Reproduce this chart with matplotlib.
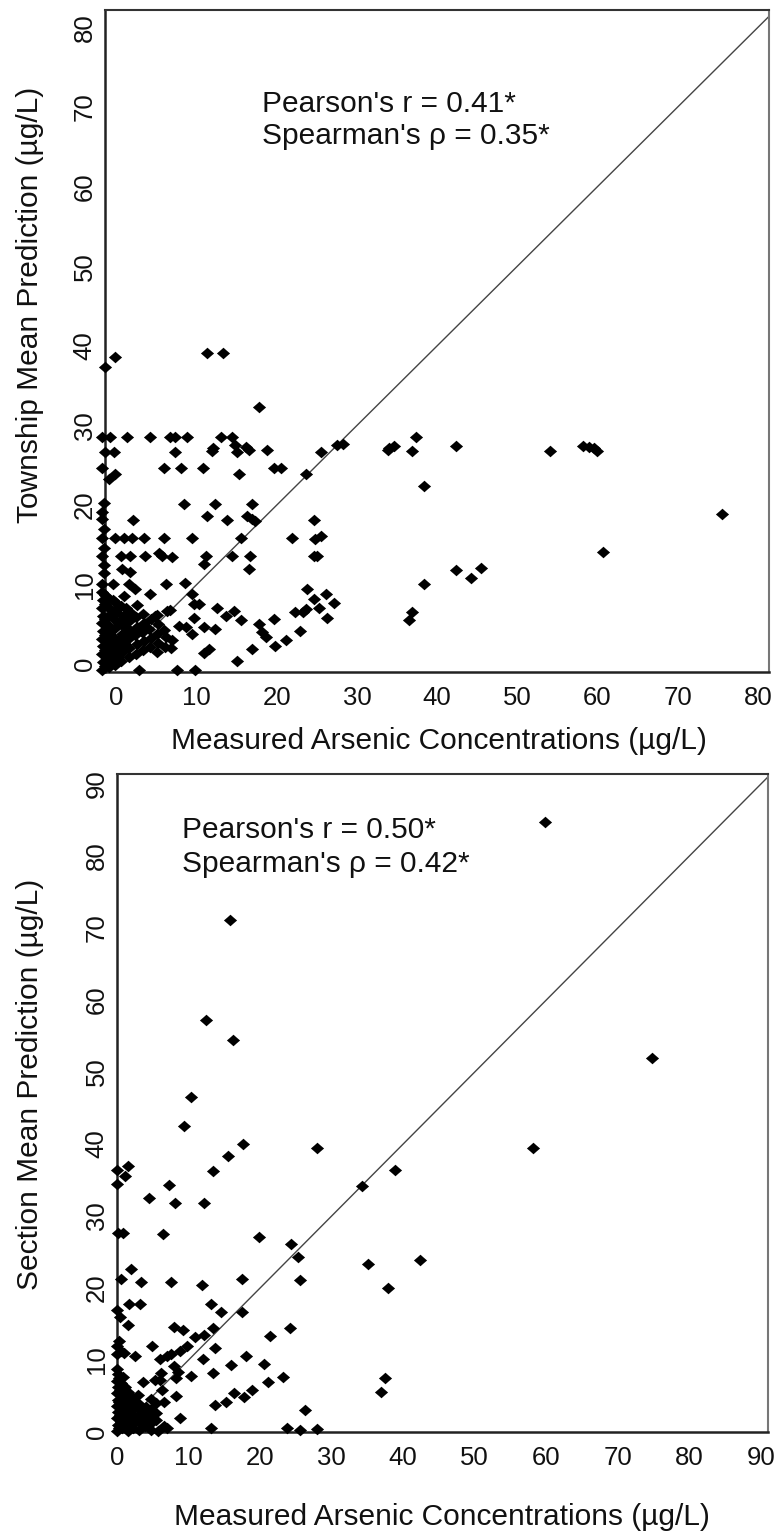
import matplotlib
matplotlib.use("Agg")
import matplotlib.pyplot as plt
from matplotlib.path import Path
import numpy as np

plt.rcParams['font.family'] = ['Liberation Sans', 'DejaVu Sans']

# ---------------- data ----------------
# Panel 1: measured arsenic (x) vs township mean prediction (y)
town_scatter = [
    (-1.4, 37.3), (-0.2, 38.6), (11.3, 39.1), (13.3, 39.1), (17.8, 32.3),
    (-1.8, 28.5), (-0.8, 28.5), (1.3, 28.5), (4.2, 28.5), (6.6, 28.5), (7.3, 28.5), (8.8, 28.5),
    (13.0, 28.5), (14.4, 28.5), (37.3, 28.5),
    (27.5, 27.5), (28.2, 27.6), (42.3, 27.4), (34.6, 27.4), (34.0, 27.2), (58.2, 27.4), (59.0, 27.3),
    (59.6, 27.2), (14.8, 27.5), (16.1, 27.3), (12.0, 27.2),
    (-1.4, 26.7), (-0.3, 26.7), (7.3, 26.7), (11.9, 26.8), (15.0, 26.7), (16.5, 26.9), (18.8, 26.9),
    (25.5, 26.7), (33.8, 26.9), (36.9, 26.8), (54.1, 26.8), (60.0, 26.8),
    (-1.8, 24.7), (5.9, 24.7), (8.0, 24.7), (10.8, 24.7), (19.6, 24.7), (20.5, 24.7), (-0.2, 23.9),
    (-1.0, 23.2), (15.3, 23.9), (23.6, 23.9), (38.4, 22.4),
    (-1.6, 20.2), (8.4, 20.1), (12.3, 20.1), (16.9, 20.1), (-1.8, 19.1), (-1.8, 18.2), (11.3, 18.6),
    (13.8, 18.1), (16.3, 18.6), (16.9, 18.2), (17.3, 18.0), (2.0, 18.1), (24.6, 18.1), (75.5, 18.9),
    (-1.6, 17.0),
    (-1.8, 15.9), (-0.2, 15.9), (0.9, 15.9), (1.9, 15.9), (3.4, 15.9), (5.9, 15.9), (9.4, 15.9),
    (15.5, 15.9), (21.9, 15.9), (24.8, 15.7), (25.5, 16.1), (-1.6, 14.6), (60.7, 14.1),
    (-1.8, 13.6), (0.5, 13.6), (1.7, 13.6), (3.6, 13.6), (5.3, 14.0), (5.6, 13.6), (6.9, 13.4),
    (11.1, 13.6), (14.4, 13.6), (16.7, 13.6), (24.6, 13.6), (25.0, 13.6),
    (10.9, 12.6), (16.5, 11.9), (0.7, 11.9), (1.7, 11.6), (-1.6, 12.5), (-1.6, 11.5), (42.3, 11.8),
    (44.2, 10.8), (45.5, 12.1),
    (-1.8, 10.0), (-0.5, 10.0), (1.5, 10.0), (2.3, 9.4), (6.2, 10.0), (8.5, 10.2), (38.3, 10.0),
    (4.2, 8.8), (9.4, 8.8),
    (23.8, 9.4), (26.1, 8.8), (24.6, 8.2), (27.1, 7.7), (25.3, 7.0), (26.3, 5.8), (22.3, 6.5),
    (23.2, 6.6), (23.6, 6.9), (22.9, 4.2), (21.1, 3.0), (19.8, 2.3), (19.6, 5.7), (16.9, 1.9),
    (15.0, 0.4), (17.8, 5.0), (18.2, 4.0), (18.6, 3.4),
    (12.5, 7.1), (13.6, 6.1), (14.7, 6.7), (15.5, 5.5), (9.6, 7.5), (10.3, 7.5), (9.6, 5.8),
    (7.8, 4.8), (8.6, 4.6), (9.4, 3.8), (10.9, 4.6), (12.3, 4.4), (11.5, 1.9), (10.9, 1.4),
    (9.8, -0.7), (7.5, -0.8), (2.8, -0.8), (4.8, 6.1), (6.3, 6.7), (36.9, 6.6), (36.5, 5.5),
]
# dense mass of overlapping wells near the origin
town_cluster = [
    (-1.8, -0.8), (-1.7, 0.3), (-1.8, 1.3), (-1.7, 2.3), (-1.8, 3.2), (-1.7, 4.2), (-1.8, 5.1),
    (-1.7, 6.0), (-1.8, 7.0), (-1.7, 8.0), (-1.8, 9.0),
    (-1.4, -0.2), (-1.4, 1.8), (-1.5, 3.7), (-1.4, 5.6), (-1.5, 7.5), (-1.4, 8.7),
    (-1.0, -0.4), (-1.1, 0.7), (-0.9, 1.8), (-1.1, 2.8), (-1.0, 3.9), (-1.1, 4.9), (-0.9, 6.0),
    (-1.0, 7.1), (-1.1, 8.3),
    (-0.6, 0.2), (-0.6, 2.5), (-0.7, 4.4), (-0.6, 6.4), (-0.5, 8.0),
    (-0.2, -0.1), (-0.3, 1.1), (-0.1, 2.2), (-0.3, 3.3), (-0.2, 4.5), (-0.3, 5.6), (-0.1, 6.6),
    (-0.2, 7.8),
    (0.2, 0.9), (0.2, 3.0), (0.3, 5.3), (0.1, 7.1),
    (0.6, 0.4), (0.7, 1.5), (0.5, 2.7), (0.7, 3.8), (0.6, 5.0), (0.8, 6.1), (0.6, 7.3), (0.9, 8.6),
    (1.1, 2.5), (1.0, 4.8), (1.2, 7.0),
    (1.5, 0.9), (1.6, 2.0), (1.4, 3.1), (1.6, 4.3), (1.5, 5.4), (1.7, 6.6),
    (2.4, 1.3), (2.5, 2.5), (2.3, 3.6), (2.5, 4.7), (2.4, 5.9), (2.6, 7.4),
    (3.3, 1.8), (3.4, 2.9), (3.2, 4.0), (3.4, 5.2), (3.3, 6.3),
    (4.2, 2.1), (4.3, 3.3), (4.1, 4.4), (4.3, 5.6),
    (5.1, 1.5), (5.2, 2.6), (5.0, 3.8), (5.2, 5.0), (5.1, 6.2),
    (6.0, 2.2), (6.1, 3.4), (5.9, 4.3),
    (6.8, 2.0), (6.9, 3.0), (6.6, 6.8),
]

# Panel 2: measured arsenic (x) vs section mean prediction (y)
section_scatter = [
    (59.8, 84.7), (15.8, 71.1), (12.5, 57.2), (16.2, 54.4), (74.8, 51.9), (10.3, 46.6), (9.4, 42.5),
    (17.6, 40.0), (27.9, 39.4), (58.1, 39.4), (15.5, 38.3), (38.9, 36.4), (34.3, 34.2), (35.1, 23.3),
    (42.4, 23.9), (37.9, 20.0), (37.4, 7.5), (36.9, 5.5),
    (13.4, 36.3), (0.0, 36.4), (1.6, 36.9), (1.1, 35.5), (0.0, 34.4), (7.2, 34.3), (4.5, 32.5),
    (8.1, 31.8), (12.2, 31.8),
    (0.2, 27.6), (0.9, 27.6), (6.4, 27.5), (19.8, 27.1), (24.3, 26.1), (25.3, 24.3), (25.6, 21.1),
    (17.5, 21.3), (11.9, 20.4), (7.5, 20.9), (3.4, 20.9), (2.0, 22.7), (0.6, 21.3),
    (1.7, 17.8), (3.2, 17.8), (0.0, 16.9), (0.4, 16.0), (1.5, 14.9), (13.1, 17.8), (14.6, 16.6),
    (17.5, 16.6), (24.2, 14.4), (21.4, 13.3), (13.4, 14.4), (10.9, 13.2), (12.1, 13.5), (7.9, 14.6),
    (9.2, 14.2),
    (4.9, 11.9), (0.0, 11.9), (0.3, 12.6), (0.6, 11.3), (1.0, 11.0), (0.0, 10.8), (2.5, 10.5),
    (6.0, 10.2), (7.0, 10.5), (7.5, 10.9), (9.8, 11.9), (8.8, 11.2), (12.0, 10.2), (13.7, 11.6),
    (18.0, 10.5), (15.9, 9.3), (20.6, 9.4), (23.2, 7.7), (21.1, 6.9), (18.9, 5.8), (17.8, 4.9),
    (16.3, 5.4), (15.3, 4.1), (13.7, 3.8), (13.4, 8.2), (10.3, 7.8), (8.5, 8.4), (8.3, 7.5),
    (7.9, 9.1), (6.2, 8.2), (6.0, 7.2), (8.3, 5.0), (8.8, 1.9), (13.1, 0.5), (23.8, 0.5), (25.6, 0.3),
    (27.9, 0.4), (26.3, 3.0), (5.8, 0.2), (6.5, 0.9), (7.0, 0.5), (5.3, 7.2), (3.7, 7.0), (6.3, 5.8),
    (6.5, 4.2), (5.5, 4.0),
]
section_cluster = [
    (0.0, 0.2), (0.1, 1.0), (0.0, 1.9), (0.1, 2.8), (0.0, 3.6), (0.1, 4.5), (0.0, 5.4), (0.1, 6.3),
    (0.0, 7.1), (0.1, 8.0), (0.0, 8.8),
    (0.3, 0.6), (0.4, 2.4), (0.3, 4.1), (0.4, 5.9), (0.3, 7.5),
    (0.7, 0.5), (0.6, 1.4), (0.8, 2.3), (0.7, 3.2), (0.6, 4.1), (0.8, 5.0), (0.7, 5.9), (0.6, 6.8),
    (0.8, 7.7),
    (1.1, 0.8), (1.1, 2.6), (1.0, 4.4), (1.1, 6.2),
    (1.5, 0.2), (1.4, 1.1), (1.6, 2.0), (1.5, 2.9), (1.4, 3.8), (1.6, 4.7), (1.5, 5.6),
    (1.9, 1.0), (1.9, 3.1), (2.0, 5.0),
    (2.3, 0.6), (2.4, 1.5), (2.2, 2.4), (2.4, 3.3), (2.3, 4.3),
    (3.1, 0.3), (3.2, 1.2), (3.0, 2.1), (3.2, 3.0), (3.1, 3.9), (3.0, 5.2),
    (3.9, 0.8), (4.0, 1.7), (3.8, 2.6), (4.0, 3.5),
    (4.7, 0.3), (4.8, 1.3), (4.6, 2.3), (4.8, 3.2), (4.7, 4.6),
    (5.4, 1.7), (5.5, 2.6),
]

town_ticks = [0, 10, 20, 30, 40, 50, 60, 70, 80]
section_ticks = [0, 10, 20, 30, 40, 50, 60, 70, 80, 90]

town_stats = ["Pearson's r = 0.41*", "Spearman's ρ = 0.35*"]
section_stats = ["Pearson's r = 0.50*", "Spearman's ρ = 0.42*"]

xlabel_text = "Measured Arsenic Concentrations (µg/L)"
town_ylabel = "Township Mean Prediction (µg/L)"
section_ylabel = "Section Mean Prediction (µg/L)"

# ---------------- drawing ----------------
W, H = 778, 1534
fig = plt.figure(figsize=(W / 100, H / 100), dpi=100)
fig.patch.set_facecolor("white")

def px_axes(left, top, right, bottom):
    return [left / W, (H - bottom) / H, (right - left) / W, (bottom - top) / H]

ax1 = fig.add_axes(px_axes(105, 10, 769, 672))
ax2 = fig.add_axes(px_axes(117, 774, 768, 1432))

star = Path([(1, 0), (0.42, 0.5), (0, 0.88), (-0.42, 0.5), (-1, 0),
             (-0.42, -0.5), (0, -0.88), (0.42, -0.5), (1, 0)],
            [Path.MOVETO] + [Path.LINETO] * 7 + [Path.CLOSEPOLY])

TICK_FS = 18.5
LABEL_FS = 21.5
TEXT_FS = 21.5

def style(ax, xlim, ylim, ticks):
    ax.set_xlim(*xlim)
    ax.set_ylim(*ylim)
    ax.set_xticks(ticks)
    ax.set_yticks(ticks)
    ax.set_xticklabels([str(t) for t in ticks])
    ax.set_yticklabels([str(t) for t in ticks], rotation=90, va="center")
    ax.tick_params(length=0, labelsize=TICK_FS, colors="#111111")
    ax.tick_params(axis="x", pad=10)
    ax.tick_params(axis="y", pad=6)
    for side in ["left", "bottom"]:
        ax.spines[side].set_linewidth(1.8)
        ax.spines[side].set_color("#222222")
    ax.spines["top"].set_linewidth(1.5)
    ax.spines["top"].set_color("#333333")
    ax.spines["right"].set_linewidth(1.5)
    ax.spines["right"].set_color("#777777")

def scatter(ax, pts):
    arr = np.array(pts)
    ax.plot(arr[:, 0], arr[:, 1], linestyle="none", marker=star, markersize=9.5,
            color="black", markeredgewidth=0, clip_on=False, zorder=3)

# top panel
style(ax1, (-1.45, 81.4), (-1.0, 82.2), town_ticks)
ax1.plot([-1.45, 82.2], [-1.45, 82.2], color="#444444", lw=1.0, zorder=2)
scatter(ax1, town_cluster)
scatter(ax1, town_scatter)

# bottom panel
style(ax2, (0, 91.0), (0, 91.4), section_ticks)
ax2.plot([0, 91.4], [0, 91.4], color="#444444", lw=1.0, zorder=2)
scatter(ax2, section_cluster)
scatter(ax2, section_scatter)

def fx(px):
    return px / W

def fy(py):
    return (H - py) / H

# axis labels
fig.text(fx(439), fy(749), xlabel_text, ha="center", va="baseline", fontsize=LABEL_FS, color="#111111")
fig.text(fx(442), fy(1525), xlabel_text, ha="center", va="baseline", fontsize=LABEL_FS, color="#111111")
fig.text(fx(30), fy(305), town_ylabel, rotation=90, ha="center", va="center", fontsize=LABEL_FS, color="#111111")
fig.text(fx(30), fy(1084), section_ylabel, rotation=90, ha="center", va="center", fontsize=LABEL_FS, color="#111111")

# statistics annotations
for i, s in enumerate(town_stats):
    fig.text(fx(262), fy(112 + 32 * i), s, ha="left", va="baseline", fontsize=TEXT_FS, color="#111111")
for i, s in enumerate(section_stats):
    fig.text(fx(182), fy(838 + 34 * i), s, ha="left", va="baseline", fontsize=TEXT_FS, color="#111111")

fig.savefig("out.png", dpi=100, facecolor="white")
